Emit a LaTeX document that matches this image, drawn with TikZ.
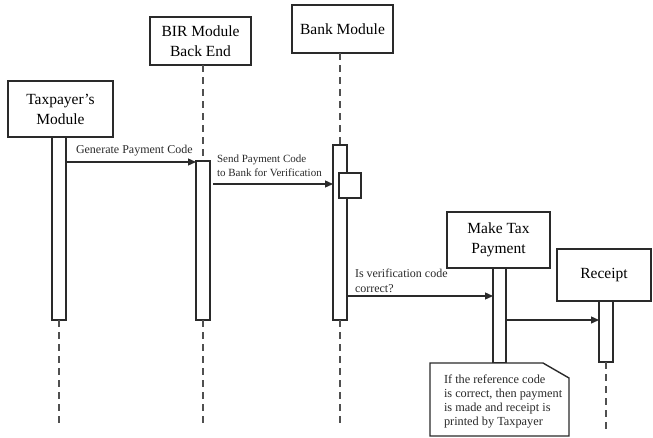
\documentclass[tikz,border=0pt]{standalone}
\usepackage{fontspec}
\setmainfont{Liberation Serif}
\usetikzlibrary{arrows.meta}
\definecolor{ink}{HTML}{2A2A2A}
\definecolor{life}{HTML}{505050}
\begin{document}
\begin{tikzpicture}[x=1pt,y=-1pt,
  every node/.style={inner sep=0pt,outer sep=0pt},
  objbox/.style={draw=ink,line width=1.6pt,fill=white,align=center,
    font=\fontsize{15.5}{20}\selectfont},
  actbar/.style={draw=ink,line width=1.4pt,fill=white,minimum width=14pt},
  lifeline/.style={draw=life,line width=1.4pt,dash pattern=on 7pt off 5pt},
  msg/.style={draw=ink,line width=1.3pt,-{Triangle[length=8pt,width=7pt]}},
  lbl/.style={align=left,anchor=west,text=ink},
  notebox/.style={draw=ink,line width=1.4pt}]
\useasboundingbox (0,0) rectangle (653,437);

% message heights
\coordinate (m1) at (0,162);
\coordinate (m2) at (0,184);
\coordinate (m3) at (0,296);
\coordinate (m4) at (0,320);

% object boxes
\node[objbox,minimum width=105pt,minimum height=56pt] (tax) at (60.5,109) {Taxpayer's\\Module};
\node[objbox,minimum width=101pt,minimum height=48pt] (bir) at (200.5,41) {BIR Module\\Back End};
\node[objbox,minimum width=101pt,minimum height=48pt] (bank) at (342.5,29) {Bank Module};
\node[objbox,minimum width=103pt,minimum height=56pt] (pay) at (498.5,240) {Make Tax\\Payment};
\node[objbox,minimum width=94pt,minimum height=52pt] (rcpt) at (604,275) {Receipt};

% activation bars
\node[actbar,minimum height=183pt,anchor=north] (taxbar) at (59,137) {};
\node[actbar,minimum height=159pt,anchor=north] (birbar) at (203,161) {};
\node[actbar,minimum height=175pt,anchor=north] (bankbar) at (340,145) {};
\node[actbar,minimum width=13pt,minimum height=95pt,anchor=north] (paybar) at (499.5,268) {};
\node[actbar,minimum height=61pt,anchor=north] (rcptbar) at (606,301) {};
\node[draw=ink,line width=1.4pt,fill=white,minimum width=22pt,minimum height=25pt] (check) at (350,185.5) {};

% lifeline ends
\coordinate (taxend) at (59,423);
\coordinate (birend) at (203,425);
\coordinate (bankend) at (340,423);
\coordinate (rcptend) at (606,432);

% lifelines
\draw[lifeline] (bir.south -| birbar.north) -- (birbar.north);
\draw[lifeline] (bank.south -| bankbar.north) -- (bankbar.north);
\draw[lifeline] (taxbar.south) -- (taxend);
\draw[lifeline] (birbar.south) -- (birend);
\draw[lifeline] (bankbar.south) -- (bankend);
\draw[lifeline] (rcptbar.south) -- (rcptend);

% messages
\draw[msg] (taxbar.east |- m1) -- (birbar.west |- m1);
\draw[msg] ([xshift=3pt]birbar.east |- m2) -- (bankbar.west |- m2);
\draw[msg] (bankbar.east |- m3) -- (paybar.west |- m3);
\draw[msg] (paybar.east |- m4) -- (rcptbar.west |- m4);

\node[lbl,font=\fontsize{12}{14}\selectfont] (l1) at (76,151) {Generate Payment Code};
\node[lbl,font=\fontsize{11}{14}\selectfont] (l2) at (217,166) {Send Payment Code\\to Bank for Verification};
\node[lbl,font=\fontsize{12}{15}\selectfont] (l3) at (355,280.5) {Is verification code\\correct?};

% note
\node[minimum width=139pt,minimum height=73pt,anchor=north west] (note) at (430,363) {};
\draw[notebox,fill=white] (note.north west) -- ([xshift=-26pt]note.north east)
  -- ([yshift=-15pt]note.north east) -- (note.south east) -- (note.south west) -- cycle;
\node[lbl,anchor=north west,font=\fontsize{12.3}{14}\selectfont] (notetext) at (444,375)
  {If the reference code\\is correct, then payment\\is made and receipt is\\printed by Taxpayer};
\end{tikzpicture}
\end{document}
